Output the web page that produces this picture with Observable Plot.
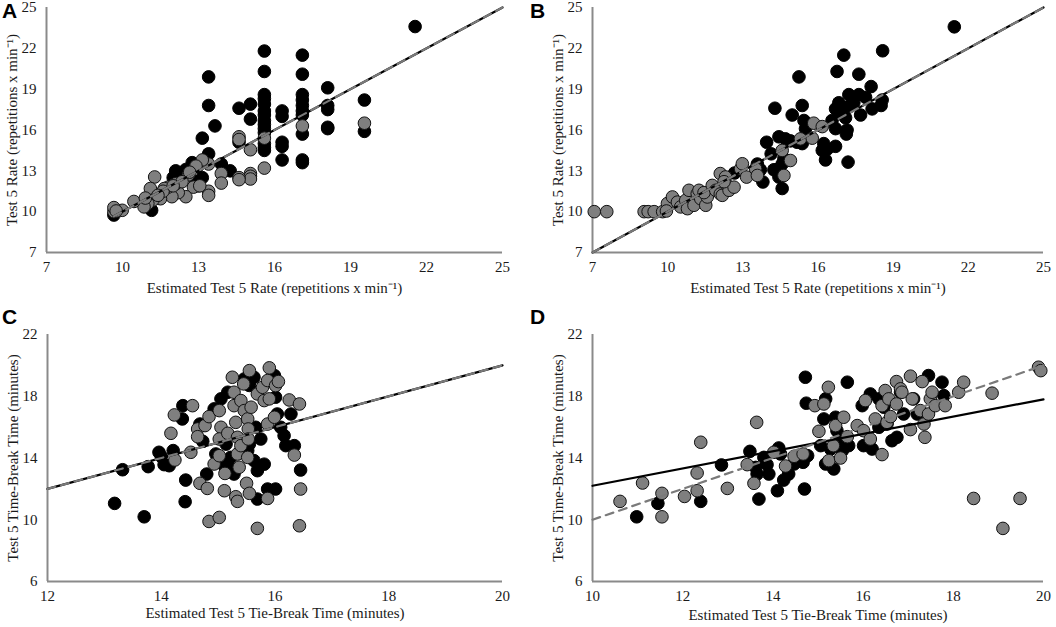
<!DOCTYPE html>
<html><head><meta charset="utf-8">
<script src="https://cdn.jsdelivr.net/npm/d3@7"></script>
<script src="https://cdn.jsdelivr.net/npm/@observablehq/plot@0.6"></script>
<style>
body{margin:0;background:#fff;}
#wrap{position:relative;width:1056px;height:627px;overflow:hidden;background:#fff;}
.panel{position:absolute;}
.panel svg text{font-family:"Liberation Serif","Times New Roman",serif !important;}
.letter{position:absolute;font-family:"Liberation Sans",Arial,sans-serif;font-weight:bold;font-size:21px;color:#000;}
</style></head>
<body><div id="wrap"></div>
<script>
// ---------- tick labels ----------
const rateTicks = [7, 10, 13, 16, 19, 22, 25];
const timeYTicks = [6, 10, 14, 18, 22];
const timeXTicksC = [12, 14, 16, 18, 20];
const timeXTicksD = [10, 12, 14, 16, 18, 20];

const rateXLabel = "Estimated Test 5 Rate (repetitions x min⁻¹)";
const rateYLabel = "Test 5 Rate (repetitions x min⁻¹)";
const timeXLabel = "Estimated Test 5 Tie-Break Time (minutes)";
const timeYLabel = "Test 5 Time-Break Time (minutes)";

// ---------- Panel A ----------
const aBlack = [
  [21.55,23.6],
  [15.6,21.8],[15.6,20.3],[15.6,18.6],[15.6,18.3],[15.6,17.9],[15.6,17.4],[15.6,17.1],[15.6,16.7],[15.6,16.4],[15.6,16.1],[15.6,15.8],[15.6,15.0],[15.6,14.7],[15.6,14.5],
  [17.1,21.5],[17.1,20.1],[17.1,18.6],[17.1,18.2],[17.1,17.8],[17.1,17.4],[17.1,17.1],[17.1,15.7],[17.1,13.8],[17.1,13.6],
  [18.1,19.1],[18.1,17.8],[18.1,17.5],[18.1,16.2],[18.1,16.1],
  [19.55,18.2],[19.55,15.9],
  [16.3,17.4],[16.3,17.0],[16.3,15.1],[16.3,14.8],[16.3,13.8],
  [15.05,17.9],[15.05,16.8],
  [14.6,17.6],[14.6,15.1],
  [13.4,19.9],[13.4,17.8],[13.4,14.25],
  [13.65,16.3],
  [13.15,15.4],[13.15,12.5],
  [13.9,13.5],[14.25,13.0],
  [12.75,13.6],[12.95,13.3],[12.1,13.0],[12.3,12.8],[12.0,12.5],[12.5,13.1],[12.9,12.2],[13.0,11.9],
  [11.15,10.1],[9.66,9.75],[11.9,11.4],[11.4,11.0]
];
const aGray = [
  [15.6,15.4],[15.6,13.2],[17.1,16.3],[19.55,16.5],
  [15.05,14.55],[15.05,12.8],[15.05,12.6],[15.05,12.4],
  [14.6,15.5],[14.6,15.3],[14.6,12.5],[14.6,12.35],
  [13.4,13.5],[13.4,11.5],[13.4,11.2],[13.15,13.8],
  [13.9,12.8],[13.9,12.1],
  [12.6,12.7],[12.8,11.8],[13.05,11.9],[12.5,11.1],[12.2,11.4],[11.95,11.1],[11.8,11.8],[12.1,12.05],[12.35,12.2],[11.65,11.7],[11.5,10.95],[11.25,11.3],[11.27,12.55],[11.1,11.7],[11.2,10.85],[11.0,10.6],[10.85,10.35],[10.45,10.75],[9.99,10.1],[9.66,10.0],[9.66,10.3],[9.75,10.05],[12.9,13.35],[12.65,12.9],[11.6,11.5],[12.0,11.9],[10.9,11.0],[11.4,11.2]
];
const aSolid = [[9.66,9.66],[25,25]];
const aDashed = [[9.66,9.66],[25,25]];

// ---------- Panel B ----------
const bBlack = [
  [21.44,23.58],[18.58,21.82],[17.03,21.5],[16.76,20.3],[17.63,20.1],[15.24,19.9],[18.12,19.19],
  [15.37,17.8],[14.28,17.6],[14.97,17.1],
  [17.23,18.6],[17.63,18.6],[17.9,18.4],[18.56,18.2],[18.52,17.8],[18.16,17.55],
  [16.83,18.0],[17.03,17.67],[17.3,17.8],[16.7,17.55],[16.9,17.2],[17.1,16.9],[17.43,18.0],[17.7,17.1],[17.16,16.0],[17.13,15.7],[16.7,16.1],[16.56,16.7],[17.2,13.64],
  [16.23,15.0],[16.37,14.6],[16.17,14.5],[16.7,14.8],[16.3,13.8],
  [15.5,16.1],[15.44,16.7],
  [14.9,15.2],[15.17,15.1],[15.37,15.0],[14.44,15.5],[14.7,15.35],
  [13.95,15.1],[14.13,14.25],
  [14.24,13.08],[14.44,12.54],[14.57,11.7],[14.44,13.15],[14.64,13.9],[14.57,13.5],
  [13.58,13.5],[13.8,12.18],[13.7,13.08],[12.67,12.84]
];
const bGray = [
  [7.07,10.0],[7.57,10.0],
  [9.06,10.0],[9.22,10.0],[9.46,10.0],[9.8,10.0],[9.99,10.6],[9.95,10.05],
  [10.19,11.08],[10.39,10.7],[10.52,10.35],[10.72,10.83],[10.85,11.57],[10.79,10.22],[11.05,10.47],[11.18,11.32],[11.32,10.95],[11.25,11.57],[11.52,10.47],[11.58,11.08],[11.45,11.4],
  [11.78,11.93],[11.92,11.57],[12.1,11.3],[12.18,11.2],[12.1,12.8],[12.31,12.55],[12.38,11.93],[12.45,11.57],[12.65,11.8],[12.25,12.2],
  [12.91,13.15],[12.98,13.52],[13.15,12.54],[13.51,13.15],[13.58,12.66],
  [14.57,14.5],[14.9,13.76],[14.64,12.66],
  [15.3,15.35],[15.77,15.4],[15.83,16.5],[16.17,16.25]
];
const bSolid = [[7,7],[25,25]];
const bDashed = [[7,7],[25,25]];

// ---------- Panel C ----------
const cBlack = [
  [13.18,11.06],[13.32,13.24],[13.7,10.19],[13.77,13.44],
  [13.96,14.37],[14.05,13.57],[14.14,13.5],[14.0,14.1],
  [14.21,14.48],[14.37,16.53],[14.38,17.39],[14.43,12.57],[14.42,11.17],
  [14.73,15.08],[14.68,16.2],[14.8,12.96],
  [14.93,17.18],[14.96,14.26],[15.05,17.83],[15.17,18.26],[15.22,14.04],[15.14,14.9],[15.08,13.6],[15.2,13.4],
  [15.28,12.96],[15.46,19.12],[15.55,18.7],[15.63,19.23],
  [15.55,14.9],[15.52,14.48],[15.63,13.83],[15.69,13.18],[15.66,15.99],[15.75,15.23],[15.69,11.34],
  [15.81,13.6],[15.87,11.99],[16.01,11.99],[15.99,19.34],[16.01,17.94],[16.04,16.85],[16.1,15.99],[16.16,15.45],[16.19,14.8],[16.34,14.8],[16.28,16.85],[16.45,13.22]
];
const cGray = [
  [14.17,15.6],[14.23,16.79],[14.24,13.87],[14.55,17.39],[14.52,14.37],
  [14.64,15.88],[14.64,15.38],[14.68,12.36],[14.77,16.1],[14.81,12.03],[14.84,16.68],[14.84,9.89],[15.02,10.15],
  [14.93,13.61],[15.02,14.15],[15.02,17.07],[15.05,15.99],[15.02,15.23],[15.11,11.88],[15.12,13.0],
  [15.17,15.6],[15.25,19.23],[15.28,18.26],[15.28,17.39],[15.31,16.31],[15.34,15.34],[15.34,14.26],[15.37,13.4],[15.31,11.49],[15.34,11.19],
  [15.4,17.72],[15.4,14.8],[15.45,18.8],[15.46,17.07],[15.52,16.53],[15.53,15.88],[15.53,15.23],[15.52,14.04],[15.5,12.36],[15.55,11.71],[15.55,19.66],[15.58,17.29],
  [15.69,18.15],[15.69,9.44],[15.78,18.58],[15.81,17.72],[15.87,19.02],[15.9,19.84],[15.9,17.83],[15.87,16.2],[16.01,18.69],[16.06,18.95],[15.99,16.64],[15.87,11.38],
  [16.25,17.76],[16.43,17.5],[16.34,14.19],[16.45,11.99],[16.43,9.61]
];
const cSolid = [[12,12],[20,20]];
const cDashed = [[12,12],[20,20]];

// ---------- Panel D ----------
const dBlack = [
  [10.98,10.19],[11.45,11.06],[12.4,11.19],[12.86,13.55],
  [13.49,14.43],[13.62,13.39],[13.69,11.34],[13.65,12.96],[13.8,14.04],[13.87,13.57],[13.91,12.96],
  [14.1,11.88],[14.13,14.65],[14.17,14.26],[14.24,12.57],[14.35,12.96],[14.47,13.61],[14.67,13.72],[14.77,14.15],[14.7,11.99],[14.72,19.23],[14.74,17.55],
  [15.13,16.53],[15.17,17.83],[15.06,14.8],[15.17,13.61],[15.35,13.29],[15.28,14.58],[15.39,16.64],[15.42,15.77],[15.46,15.02],[15.54,14.48],[15.65,18.91],[15.68,14.8],
  [16.01,14.8],[16.2,14.58],[15.98,17.39],[16.16,18.15],[16.35,17.83],[16.35,15.99],[16.46,17.29],[16.53,16.2],[16.64,15.12],[16.75,15.34],[16.83,18.26],[16.9,16.85],[17.12,17.83],[17.2,16.85],[17.45,19.34],[17.75,18.91],[17.79,18.04]
];
const dGray = [
  [10.61,11.19],[11.11,12.38],[11.54,11.71],[11.54,10.19],[12.04,11.51],[12.32,13.03],[12.32,11.88],[12.4,15.02],[12.99,12.03],
  [13.43,13.57],[13.58,12.36],[13.64,16.31],[14.02,14.37],[14.28,13.48],[14.47,14.11],[14.67,14.26],
  [14.93,17.39],[15.02,15.73],[15.13,17.5],[15.23,18.58],[15.24,13.83],[15.34,14.8],[15.39,16.1],[15.5,14.0],[15.57,16.64],[15.65,15.38],
  [15.87,16.1],[16.01,15.77],[16.05,17.72],[16.16,15.23],[16.27,16.53],[16.42,17.39],[16.42,14.22],[16.49,18.37],[16.57,17.83],[16.53,16.31],[16.61,16.68],[16.74,17.5],[16.74,18.95],[16.83,18.48],[16.86,18.26],[17.05,19.3],[17.09,17.83],[17.05,15.84],[17.27,17.07],[17.31,18.95],[17.35,16.2],[17.37,15.34],[17.45,16.85],[17.49,17.83],[17.53,18.26],[17.6,17.39],[17.82,17.39],[18.12,18.26],[18.23,18.91],
  [18.45,11.38],[18.86,18.2],[19.1,9.44],[19.48,11.38],[19.89,19.88],[19.94,19.66]
];
const dSolid = [[10,12.2],[20,17.8]];
const dDashed = [[10,10],[20,20]];

// ---------- drawing ----------
const FONT = '"Liberation Serif","Times New Roman",serif';
function panel(cfg) {
  const [x0, x1] = cfg.xDomain, [y0, y1] = cfg.yDomain;
  return Plot.plot({
    width: 528, height: cfg.height,
    marginLeft: cfg.ml, marginRight: cfg.mr, marginTop: cfg.mt, marginBottom: cfg.mb,
    style: {fontFamily: FONT, fontSize: "15px", color: "#1a1a1a", background: "#fff", overflow: "visible"},
    x: {domain: cfg.xDomain},
    y: {domain: cfg.yDomain},
    marks: [
      Plot.ruleX([x0], {stroke: "#8a8a8a", strokeWidth: 2}),
      Plot.ruleY([y0], {stroke: "#8a8a8a", strokeWidth: 2}),
      Plot.axisX({ticks: cfg.xTicks, tickSize: 0, tickPadding: 9, fontSize: 15, fontFamily: FONT, label: cfg.xLabel, labelAnchor: "center", labelOffset: cfg.xlo, labelArrow: "none"}),
      Plot.axisY({ticks: cfg.yTicks, tickSize: 0, tickPadding: 10, fontSize: 15, fontFamily: FONT, label: cfg.yLabel, labelAnchor: "center", labelOffset: cfg.ylo, labelArrow: "none"}),
      Plot.dot(cfg.black, {x: d => d[0], y: d => d[1], r: 6.3, fill: "#000", stroke: "#000", strokeWidth: 1}),
      Plot.dot(cfg.gray, {x: d => d[0], y: d => d[1], r: 6.3, fill: "#7f7f7f", stroke: "#111", strokeWidth: 1}),
      Plot.line(cfg.solid, {x: d => d[0], y: d => d[1], stroke: "#000", strokeWidth: 2.2}),
      Plot.line(cfg.dashed, {x: d => d[0], y: d => d[1], stroke: "#7a7a7a", strokeWidth: 2.2, strokeDasharray: "8,6"})
    ]
  });
}

const wrap = document.getElementById("wrap");
function place(el, left, top, letter, lx, ly) {
  const d = document.createElement("div");
  d.className = "panel"; d.style.left = left + "px"; d.style.top = top + "px";
  d.appendChild(el);
  wrap.appendChild(d);
  const t = document.createElement("div");
  t.className = "letter"; t.textContent = letter;
  t.style.left = lx + "px"; t.style.top = ly + "px";
  wrap.appendChild(t);
}

place(panel({height: 305, ml: 46, mr: 26, mt: 7, mb: 53, xDomain: [7, 25], yDomain: [7, 25],
  xTicks: rateTicks, yTicks: rateTicks, xLabel: rateXLabel, yLabel: rateYLabel, xlo: 40, ylo: 40,
  black: aBlack, gray: aGray, solid: aSolid, dashed: aDashed}), 0, 0, "A", 2, -1);
place(panel({height: 305, ml: 64, mr: 13, mt: 7, mb: 53, xDomain: [7, 25], yDomain: [7, 25],
  xTicks: rateTicks, yTicks: rateTicks, xLabel: rateXLabel, yLabel: rateYLabel, xlo: 40, ylo: 40,
  black: bBlack, gray: bGray, solid: bSolid, dashed: bDashed}), 528, 0, "B", 530, -1);
place(panel({height: 317, ml: 47, mr: 26, mt: 24, mb: 46, xDomain: [12, 20], yDomain: [6, 22],
  xTicks: timeXTicksC, yTicks: timeYTicks, xLabel: timeXLabel, yLabel: timeYLabel, xlo: 36, ylo: 40,
  black: cBlack, gray: cGray, solid: cSolid, dashed: cDashed}), 0, 310, "C", 2, 305);
place(panel({height: 317, ml: 64, mr: 13, mt: 24, mb: 46, xDomain: [10, 20], yDomain: [6, 22],
  xTicks: timeXTicksD, yTicks: timeYTicks, xLabel: timeXLabel, yLabel: timeYLabel, xlo: 38, ylo: 40,
  black: dBlack, gray: dGray, solid: dSolid, dashed: dDashed}), 528, 310, "D", 530, 305);
</script></body></html>
